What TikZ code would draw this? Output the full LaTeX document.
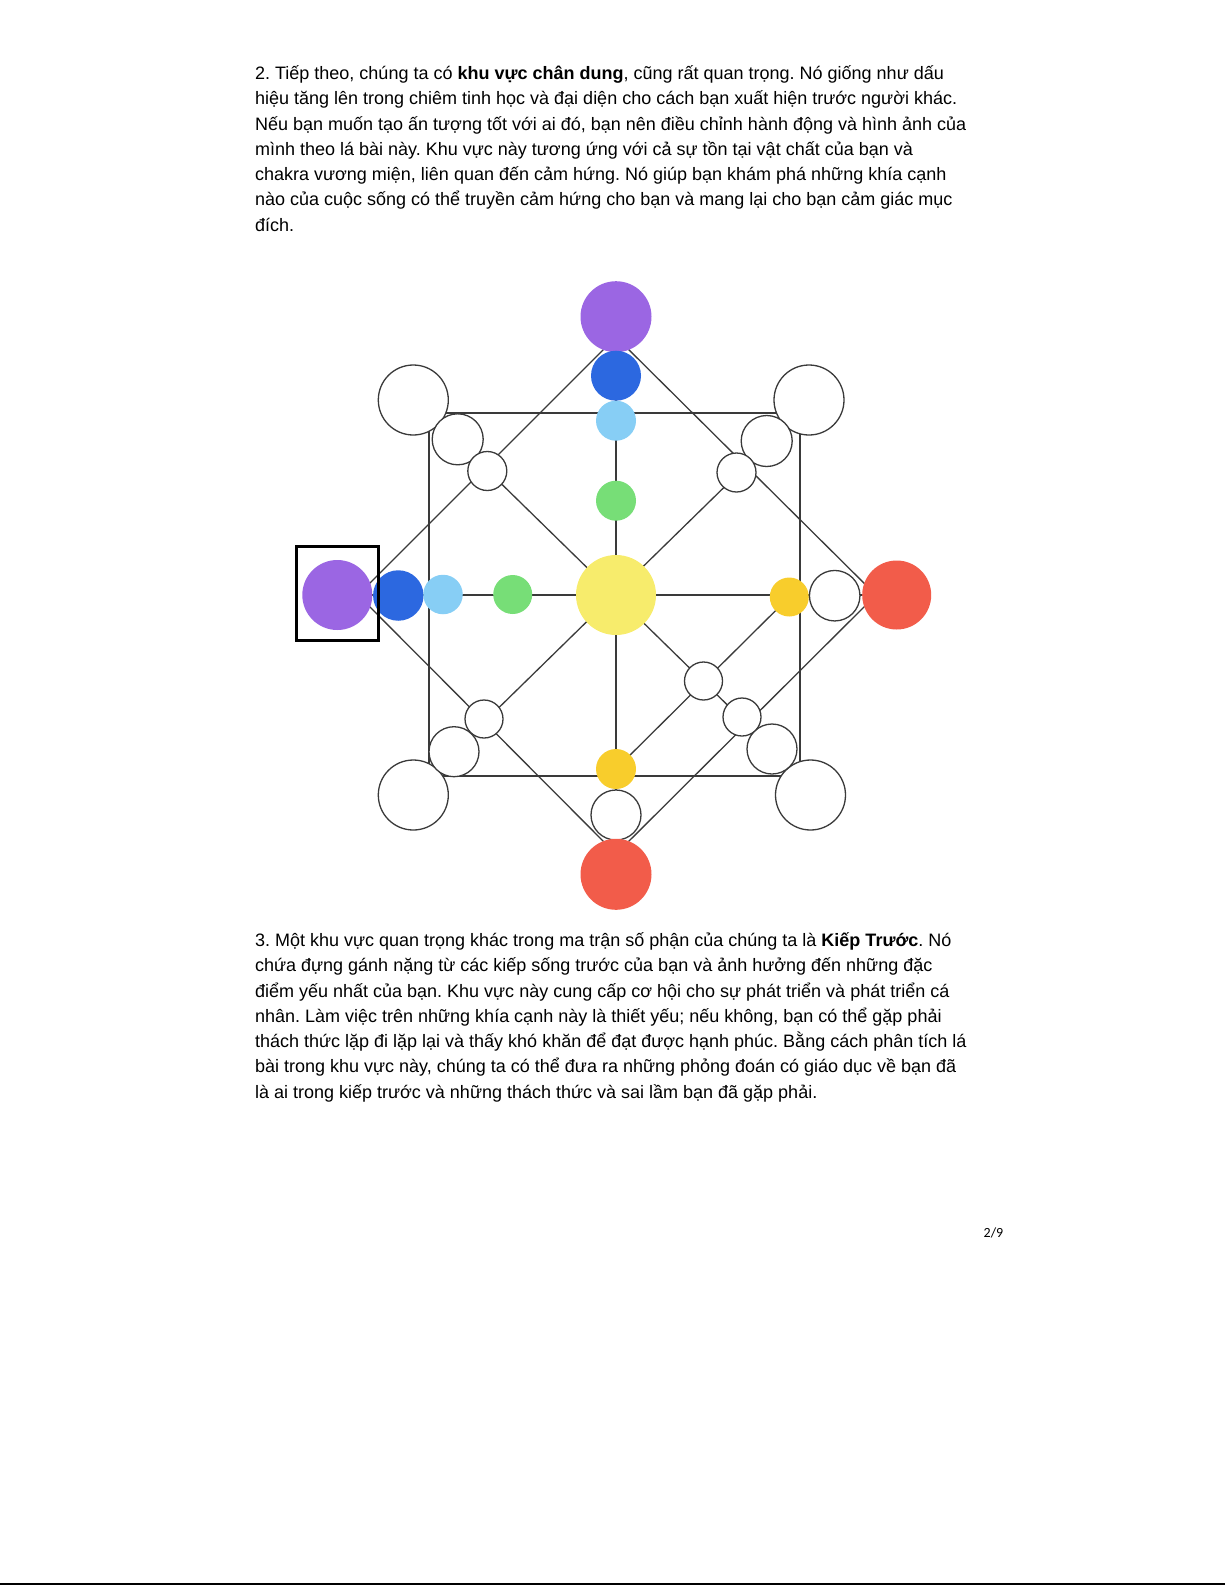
\documentclass[tikz,border=0pt]{standalone}
\usepackage{fontspec}
\setmainfont{Liberation Sans}
\newfontfamily\pgnumfont{Carlito}
\usetikzlibrary{backgrounds}
\definecolor{purp}{HTML}{9B66E3}
\definecolor{dblue}{HTML}{2C68E0}
\definecolor{lblue}{HTML}{87CEF5}
\definecolor{grn}{HTML}{77DE77}
\definecolor{ylw}{HTML}{F7EC6C}
\definecolor{gold}{HTML}{F8CD2C}
\definecolor{rd}{HTML}{F25C4A}
\definecolor{linec}{HTML}{3A3A3A}
\frenchspacing
\begin{document}
\begin{tikzpicture}[x=0.5pt,y=-0.5pt,
  ln/.style={draw=linec,line width=0.65pt},
  dot/.style={circle,inner sep=0pt,outer sep=0pt,minimum size=#1*0.5pt},
  wdot/.style={dot=#1,fill=white,draw=linec,line width=0.65pt},
  body/.style={anchor=base west,inner sep=0pt,font=\fontsize{9pt}{12.64pt}\selectfont}]
\useasboundingbox (0,0) rectangle (1225,1585);

% ---- text
\node[body] (p1) at (254.7,79.5) {2. Tiếp theo, chúng ta có \textbf{khu vực chân dung}, cũng rất quan trọng. Nó giống như dấu};
\node[body] (p2) at (254.7,104.8) {hiệu tăng lên trong chiêm tinh học và đại diện cho cách bạn xuất hiện trước người khác.};
\node[body] (p3) at (254.7,130.0) {Nếu bạn muốn tạo ấn tượng tốt với ai đó, bạn nên điều chỉnh hành động và hình ảnh của};
\node[body] (p4) at (254.7,155.3) {mình theo lá bài này. Khu vực này tương ứng với cả sự tồn tại vật chất của bạn và};
\node[body] (p5) at (254.7,180.6) {chakra vương miện, liên quan đến cảm hứng. Nó giúp bạn khám phá những khía cạnh};
\node[body] (p6) at (254.7,205.9) {nào của cuộc sống có thể truyền cảm hứng cho bạn và mang lại cho bạn cảm giác mục};
\node[body] (p7) at (254.7,231.1) {đích.};

\node[body] (q1) at (254.7,946.5) {3. Một khu vực quan trọng khác trong ma trận số phận của chúng ta là \textbf{Kiếp Trước}. Nó};
\node[body] (q2) at (254.7,971.8) {chứa đựng gánh nặng từ các kiếp sống trước của bạn và ảnh hưởng đến những đặc};
\node[body] (q3) at (254.7,997.0) {điểm yếu nhất của bạn. Khu vực này cung cấp cơ hội cho sự phát triển và phát triển cá};
\node[body] (q4) at (254.7,1022.3) {nhân. Làm việc trên những khía cạnh này là thiết yếu; nếu không, bạn có thể gặp phải};
\node[body] (q5) at (254.7,1047.6) {thách thức lặp đi lặp lại và thấy khó khăn để đạt được hạnh phúc. Bằng cách phân tích lá};
\node[body] (q6) at (254.7,1072.9) {bài trong khu vực này, chúng ta có thể đưa ra những phỏng đoán có giáo dục về bạn đã};
\node[body] (q7) at (254.7,1098.1) {là ai trong kiếp trước và những thách thức và sai lầm bạn đã gặp phải.};

\node[anchor=base,inner sep=0pt,font=\pgnumfont\fontsize{7pt}{8pt}\selectfont] (pg) at (993.5,1237) {2/9};

% ---- geometry
\coordinate (dT) at (616,337);
\coordinate (dR) at (876,595);
\coordinate (dB) at (616,854);
\coordinate (dL) at (358,595);
\coordinate (sTL) at (429,413);
\coordinate (sTR) at (800,413);
\coordinate (sBR) at (800,776);
\coordinate (sBL) at (429,776);

% ---- vertical column
\node[dot=71,fill=purp] (tPur) at (616,316.7) {};
\node[dot=50,fill=dblue] (tBlu) at (616,375.7) {};
\node[dot=40,fill=lblue] (tLbl) at (616,420.7) {};
\node[dot=40,fill=grn] (tGrn) at (616,500.7) {};
\node[dot=80,fill=ylw] (cen) at (616,595) {};
\node[dot=40,fill=gold] (bYel) at (616,769) {};
\node[wdot=50] (bWht) at (616,815) {};
\node[dot=71,fill=rd] (bRed) at (616,874.3) {};

% ---- horizontal row
\node[dot=70,fill=purp] (lPur) at (337.3,595) {};
\node[dot=50.5,fill=dblue] (lBlu) at (398.3,595.5) {};
\node[dot=39.5,fill=lblue] (lLbl) at (443,594.5) {};
\node[dot=39,fill=grn] (lGrn) at (512.7,594.5) {};
\node[dot=39,fill=gold] (rYel) at (789.3,597) {};
\node[wdot=50.5] (rWht) at (834.7,595.7) {};
\node[dot=69,fill=rd] (rRed) at (896.7,595) {};

% ---- corner circles
\node[wdot=70] (bigTL) at (413.3,400) {};
\node[wdot=70] (bigTR) at (809,400) {};
\node[wdot=70] (bigBL) at (413.3,795) {};
\node[wdot=70] (bigBR) at (810.5,795) {};
\node[wdot=51] (medTL) at (457.7,439.3) {};
\node[wdot=51] (medTR) at (766.7,441) {};
\node[wdot=50] (medBL) at (454,751.7) {};
\node[wdot=50] (medBR) at (772,749) {};
\node[wdot=39] (smTL) at (487.3,471) {};
\node[wdot=39] (smTR) at (736.5,472.5) {};
\node[wdot=38] (smBL) at (484,719) {};
\node[wdot=38] (smBR) at (742,717) {};
\node[wdot=38] (smX) at (703.5,681) {};

% ---- highlight box round the left purple circle
\node[draw=black,line width=1.5pt,inner sep=0pt,minimum width=40.8pt,minimum height=47pt] (hbox) at (337.5,593) {};

% ---- connectors behind the circles
\begin{pgfonlayer}{background}
\draw[ln] (sTL) rectangle (sBR);
\draw[ln] (dT) -- (dR) -- (dB) -- (dL) -- cycle;
\draw[ln] (dL) -- (dR);
\draw[ln] (dT) -- (dB);
\draw[ln] (sTL) -- (sBR);
\draw[ln] (sTR) -- (sBL);
\draw[ln] (rYel.center) -- (bYel.center);
\end{pgfonlayer}

% ---- page rule at the bottom
\coordinate (ruleL) at (0,1583.8);
\coordinate (ruleR) at (1225,1583.8);
\draw[line width=1pt] (ruleL) -- (ruleR);
\end{tikzpicture}
\end{document}
